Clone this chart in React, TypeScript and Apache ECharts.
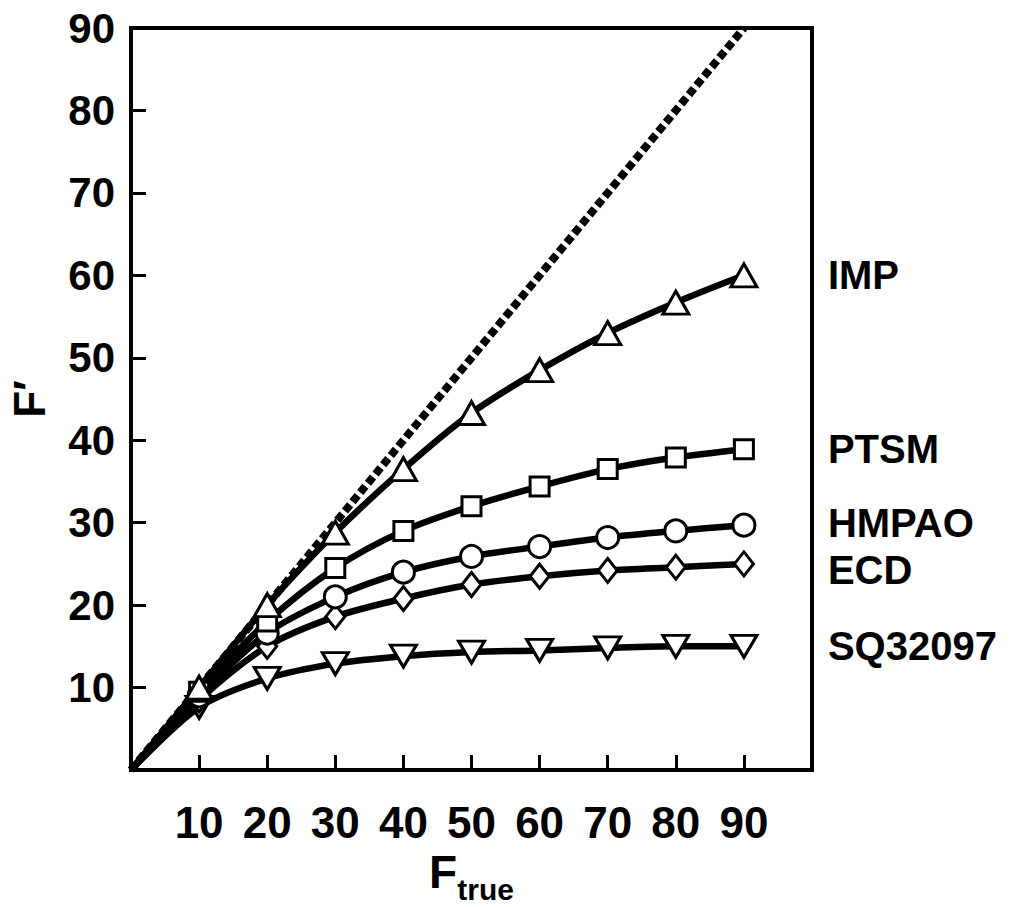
import React, { useEffect, useRef } from "react";
import * as echarts from "echarts";

const xValues = [0, 10, 20, 30, 40, 50, 60, 70, 80, 90];
const identityX = [0, 90];
const identityY = [0, 90];
const impValues = [0, 10, 20, 28.8, 36.5, 43.3, 48.5, 53, 56.7, 60];
const ptsmValues = [0, 9.5, 18, 24.5, 29, 32, 34.4, 36.5, 37.9, 38.9];
const hmpaoValues = [0, 9, 16.6, 21, 24, 25.9, 27.1, 28.2, 29, 29.7];
const ecdValues = [0, 8.5, 15, 18.6, 20.8, 22.5, 23.5, 24.2, 24.6, 25];
const sqValues = [0, 7.6, 11.1, 12.9, 13.8, 14.3, 14.5, 14.8, 15, 15];
const xTickLabels = ["10", "20", "30", "40", "50", "60", "70", "80", "90"];
const yTickLabels = ["10", "20", "30", "40", "50", "60", "70", "80", "90"];

const FONT = "'Liberation Sans', Arial, Helvetica, sans-serif";

function buildData(vals: number[]) {
  return xValues.map((x, i) =>
    i === 0 ? { value: [x, vals[i]], symbol: "none" } : { value: [x, vals[i]] }
  );
}

function makeSeries(
  name: string,
  vals: number[],
  symbol: string,
  size: number | number[],
  rotate: number,
  labelDy: number
) {
  return {
    name,
    type: "line",
    data: buildData(vals),
    smooth: 0.3,
    symbol,
    symbolSize: size,
    symbolRotate: rotate,
    showAllSymbol: true,
    z: 3,
    lineStyle: { color: "#000", width: 6.5 },
    itemStyle: { color: "#fff", borderColor: "#000", borderWidth: 3 },
    endLabel: {
      show: true,
      formatter: "{a}",
      distance: 84,
      offset: [0, labelDy],
      color: "#000",
      fontFamily: FONT,
      fontWeight: "bold",
      fontSize: 40,
    },
  };
}

export default function App() {
  const ref = useRef<HTMLDivElement>(null);
  useEffect(() => {
    if (!ref.current) return;
    const chart = echarts.init(ref.current, undefined, { renderer: "svg" });
    chart.setOption({
      animation: false,
      backgroundColor: "#fff",
      grid: {
        left: 131,
        top: 28,
        right: 210,
        bottom: 137,
        outerBoundsMode: "none",
        containLabel: false,
        show: true,
        borderColor: "#000",
        borderWidth: 4,
      },
      xAxis: {
        type: "value",
        min: 0,
        max: 100,
        interval: 10,
        splitLine: { show: false },
        axisLine: { show: true, lineStyle: { color: "#000", width: 4 } },
        axisTick: { show: true, inside: true, length: 15, lineStyle: { color: "#000", width: 3 } },
        axisLabel: {
          margin: 30,
          color: "#000",
          fontFamily: FONT,
          fontWeight: "bold",
          fontSize: 44,
          formatter: (v: number) => {
            const s = String(v);
            return xTickLabels.indexOf(s) >= 0 ? s : "";
          },
        },
        name: "{f|F}{s|true}",
        nameLocation: "middle",
        nameGap: 78,
        nameTextStyle: {
          rich: {
            f: { fontFamily: FONT, fontWeight: "bold", fontSize: 46, color: "#000" },
            s: {
              fontFamily: FONT,
              fontWeight: "bold",
              fontSize: 30,
              color: "#000",
              verticalAlign: "bottom",
              padding: [0, 0, -10, 0],
            },
          },
        },
      },
      yAxis: {
        type: "value",
        min: 0,
        max: 90,
        interval: 10,
        splitLine: { show: false },
        axisLine: { show: true, lineStyle: { color: "#000", width: 4 } },
        axisTick: { show: true, inside: true, length: 15, lineStyle: { color: "#000", width: 3 } },
        axisLabel: {
          margin: 16,
          color: "#000",
          fontFamily: FONT,
          fontWeight: "bold",
          fontSize: 42,
          formatter: (v: number) => {
            const s = String(v);
            return yTickLabels.indexOf(s) >= 0 ? s : "";
          },
        },
        name: "F′",
        nameLocation: "middle",
        nameGap: 80,
        nameRotate: 90,
        nameTextStyle: { fontFamily: FONT, fontWeight: "bold", fontSize: 44, color: "#000" },
      },
      series: [
        {
          name: "identity",
          type: "line",
          data: identityX.map((x, i) => [x, identityY[i]]),
          symbol: "none",
          z: 2,
          lineStyle: { color: "#000", width: 8, type: [8, 4] },
        },
        makeSeries("SQ32097", sqValues, "triangle", [26, 22], 180, 0),
        makeSeries("ECD", ecdValues, "diamond", [19, 24], 0, 6),
        makeSeries("HMPAO", hmpaoValues, "circle", 22, 0, -2),
        makeSeries("PTSM", ptsmValues, "rect", 19, 0, 0),
        makeSeries("IMP", impValues, "triangle", [26, 23], 0, 0),
      ],
    });
    return () => chart.dispose();
  }, []);
  return (
    <div
      ref={ref}
      style={{ position: "absolute", left: 0, top: 0, width: 1022, height: 907 }}
    />
  );
}
